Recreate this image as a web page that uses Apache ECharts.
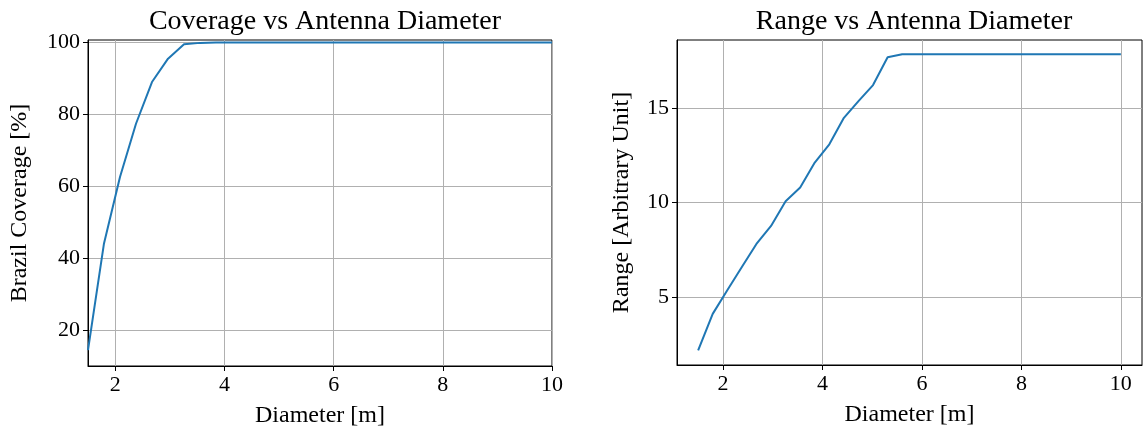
<!DOCTYPE html>
<html>
<head>
<meta charset="utf-8">
<script src="https://cdn.jsdelivr.net/npm/echarts@6/dist/echarts.min.js"></script>
<style>
html,body{margin:0;padding:0;background:#fff;}
#chart{width:1144px;height:432px;}
</style>
</head>
<body>
<div id="chart"></div>
<script>
const diameters = [1.5, 1.793, 2.086, 2.379, 2.672, 2.966, 3.259, 3.552, 3.845, 4.138,
  4.431, 4.724, 5.017, 5.31, 5.603, 5.897, 6.19, 6.483, 6.776, 7.069,
  7.362, 7.655, 7.948, 8.241, 8.534, 8.828, 9.121, 9.414, 9.707, 10];
const coverage = [14.4, 44.1, 62.6, 77.4, 89.0, 95.5, 99.5, 99.9, 100, 100,
  100, 100, 100, 100, 100, 100, 100, 100, 100, 100,
  100, 100, 100, 100, 100, 100, 100, 100, 100, 100];
const rangeVals = [2.19, 4.12, 5.37, 6.59, 7.81, 8.76, 10.07, 10.79, 12.11, 13.07,
  14.47, 15.35, 16.2, 17.67, 17.83, 17.83, 17.83, 17.83, 17.83, 17.83,
  17.83, 17.83, 17.83, 17.83, 17.83, 17.83, 17.83, 17.83, 17.83, 17.83];
const xTicks = [2, 4, 6, 8, 10];
const coverageTicks = [20, 40, 60, 80, 100];
const rangeTicks = [5, 10, 15];

const FONT = 'Liberation Serif';
const chart = echarts.init(document.getElementById('chart'), null, {renderer: 'canvas'});

function xAxis(gridIndex, min, max) {
  return {
    type: 'value', gridIndex, min, max,
    name: 'Diameter [m]', nameLocation: 'middle', nameGap: 38,
    nameTextStyle: {fontFamily: FONT, fontSize: 24, color: '#000'},
    axisLine: {show: true, onZero: false, lineStyle: {color: '#000', width: 1}},
    axisTick: {show: true, inside: false, length: 5, lineStyle: {color: '#000'}, customValues: xTicks},
    axisLabel: {fontFamily: FONT, fontSize: 22, color: '#000', margin: 8, customValues: xTicks},
    splitLine: {show: true, lineStyle: {color: '#b0b0b0', width: 1}}
  };
}
function yAxis(gridIndex, min, max, ticks, name, gap) {
  return {
    type: 'value', gridIndex, min, max,
    name, nameLocation: 'middle', nameGap: gap, nameRotate: 90,
    nameTextStyle: {fontFamily: FONT, fontSize: 24, color: '#000'},
    axisLine: {show: true, onZero: false, lineStyle: {color: '#000', width: 1}},
    axisTick: {show: true, inside: false, length: 5, lineStyle: {color: '#000'}, customValues: ticks},
    axisLabel: {fontFamily: FONT, fontSize: 22, color: '#000', margin: 8, customValues: ticks},
    splitLine: {show: true, lineStyle: {color: '#b0b0b0', width: 1}}
  };
}

chart.setOption({
  animation: false,
  backgroundColor: '#fff',
  title: [
    {text: 'Coverage vs Antenna Diameter', left: 320, top: 3, textAlign: 'center',
     textStyle: {fontFamily: FONT, fontSize: 28, fontWeight: 'normal', color: '#000'}},
    {text: 'Range vs Antenna Diameter', left: 909, top: 3, textAlign: 'center',
     textStyle: {fontFamily: FONT, fontSize: 28, fontWeight: 'normal', color: '#000'}}
  ],
  grid: [
    {left: 88, top: 40, width: 464, height: 326, containLabel: false, outerBoundsMode: 'none',
     show: true, borderColor: '#000', borderWidth: 1, backgroundColor: 'transparent'},
    {left: 677, top: 40, width: 465, height: 325, containLabel: false, outerBoundsMode: 'none',
     show: true, borderColor: '#000', borderWidth: 1, backgroundColor: 'transparent'}
  ],
  xAxis: [xAxis(0, 1.5, 10), xAxis(1, 1.075, 10.425)],
  yAxis: [
    yAxis(0, 10, 100.7, coverageTicks, 'Brazil Coverage [%]', 56),
    yAxis(1, 1.42, 18.58, rangeTicks, 'Range [Arbitrary Unit]', 43)
  ],
  series: [
    {type: 'line', xAxisIndex: 0, yAxisIndex: 0, showSymbol: false, symbol: 'none',
     data: diameters.map((d, i) => [d, coverage[i]]),
     lineStyle: {color: '#1f77b4', width: 2}, itemStyle: {color: '#1f77b4'}},
    {type: 'line', xAxisIndex: 1, yAxisIndex: 1, showSymbol: false, symbol: 'none',
     data: diameters.map((d, i) => [d, rangeVals[i]]),
     lineStyle: {color: '#1f77b4', width: 2}, itemStyle: {color: '#1f77b4'}}
  ]
});
</script>
</body>
</html>
